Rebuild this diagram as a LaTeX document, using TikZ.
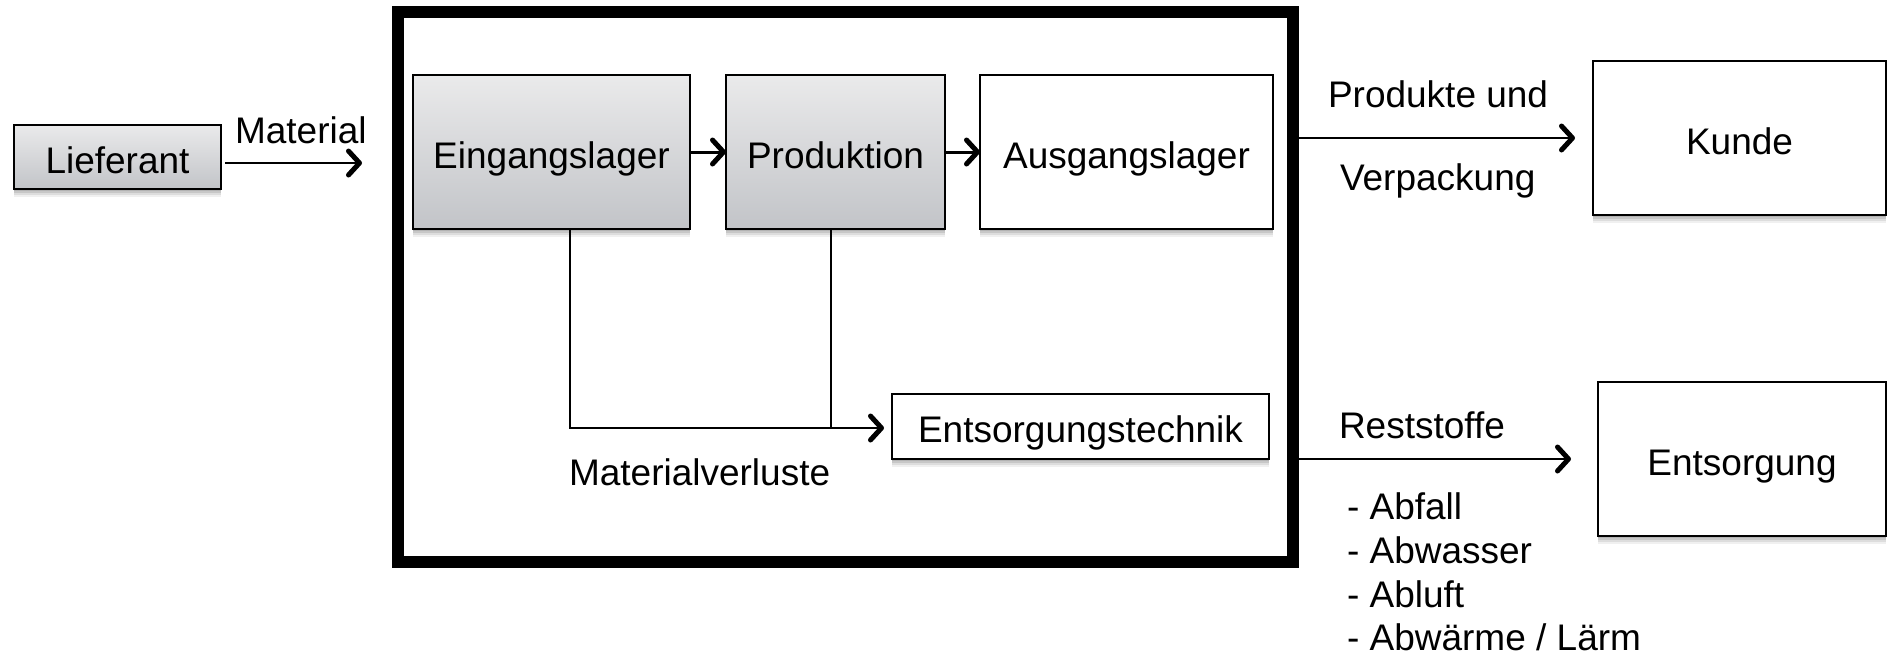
\documentclass[tikz,border=0pt]{standalone}
\usepackage{fontspec}
\setmainfont{Liberation Sans}
\usetikzlibrary{arrows.meta,shadows}
\definecolor{gtop}{HTML}{EAEAEB}
\definecolor{gbot}{HTML}{C2C4C8}
\begin{document}
\begin{tikzpicture}[x=1pt,y=-1pt,
  every node/.style={font=\fontsize{37}{44}\selectfont, inner sep=0pt, outer sep=0pt},
  softshadow/.style={
    general shadow={fill=black, opacity=.10, shadow xshift=0pt, shadow yshift=-2pt},
    general shadow={fill=black, opacity=.10, shadow xshift=0pt, shadow yshift=-4pt},
    general shadow={fill=black, opacity=.08, shadow xshift=0pt, shadow yshift=-6pt},
    general shadow={fill=black, opacity=.06, shadow xshift=0pt, shadow yshift=-8pt}},
  box/.style={draw=black, line width=2pt, rectangle, fill=white, text height=32.5pt, text depth=0pt, softshadow},
  greybox/.style={box, top color=gtop, bottom color=gbot},
  lbl/.style={anchor=base west},
  tipx/.tip={Straight Barb[length=11pt, width=24pt, line width=5pt, round]},
  conn/.style={line width=2.5pt, -tipx},
  frm/.style={draw=black, line width=12pt, rectangle}
]
\useasboundingbox (0,0) rectangle (1888,656);

% outer frame
\node[frm, minimum width=895pt, minimum height=550pt] (frame) at (845.5,287) {};

% supplier
\node[greybox, line width=2.5pt, minimum width=207pt, minimum height=64pt] (lief) at (117.5,157) {Lieferant};
\node[lbl] (matlbl) at (235,143) {Material};
\coordinate (matend) at (362,163);
\draw[conn, shorten <=4pt] (lief.east |- matend) -- (matend);

% process boxes
\node[greybox, minimum width=277pt, minimum height=154pt] (ein) at (551.5,152) {Eingangslager};
\node[greybox, minimum width=219pt, minimum height=154pt] (prod) at (835.5,152) {Produktion};
\node[box, minimum width=293pt, minimum height=154pt] (aus) at (1126.5,152) {Ausgangslager};
\draw[conn, line width=3pt] (ein) -- (prod);
\draw[conn, line width=3pt] (prod) -- (aus);

% disposal technology
\node[box, minimum width=377pt, minimum height=65pt] (entt) at (1080.5,426.5) {Entsorgungstechnik};
\coordinate (j1) at (570,428);
\coordinate (j2) at (831,428);
\draw[conn, shorten >=8pt] (ein.south -| j1) -- (j1) -- (entt.west |- j1);
\draw[line width=2.5pt] (prod.south -| j2) -- (j2);
\node[lbl] (mv) at (569,485) {Materialverluste};

% customer
\node[box, minimum width=293pt, minimum height=154pt] (kunde) at (1739.5,138) {Kunde};
\draw[conn, shorten >=18pt] (frame.east |- kunde) -- (kunde);
\node[lbl] (pu) at (1328,107) {Produkte und};
\node[lbl] (vp) at (1340,190) {Verpackung};

% disposal
\node[box, minimum width=288pt, minimum height=154pt] (ents) at (1742,459) {Entsorgung};
\draw[conn, shorten >=27pt] (frame.east |- ents) -- (ents);
\node[lbl] (rs) at (1339,438) {Reststoffe};
\node[lbl] (l1) at (1347,519) {- Abfall};
\node[lbl] (l2) at (1347,563) {- Abwasser};
\node[lbl] (l3) at (1347,607) {- Abluft};
\node[lbl] (l4) at (1347,650) {- Abwärme / Lärm};
\end{tikzpicture}
\end{document}
